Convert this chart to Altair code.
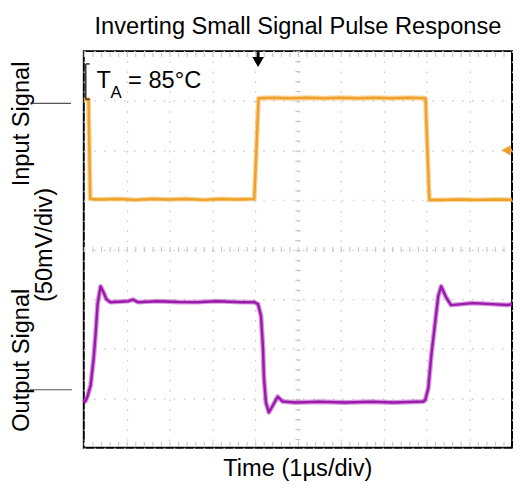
import altair as alt
import pandas as pd

# ---- data (time in divisions of 1 us, amplitude in divisions of 50 mV) ----
in_t = [0.0, 0.11, 0.15, 0.35, 0.8, 1.2, 1.6, 2.0, 2.4, 2.8, 3.2, 3.6, 3.98, 4.03, 4.08,
        4.4, 4.8, 5.2, 5.6, 6.0, 6.4, 6.8, 7.2, 7.6, 7.98, 8.02, 8.07, 8.4, 8.8, 9.2, 9.6, 10.0]
in_v = [7.03, 7.03, 5.02, 5.01, 5.02, 5.00, 5.02, 5.01, 5.02, 5.00, 5.02, 5.01, 5.02, 6.0, 7.05,
        7.06, 7.05, 7.06, 7.05, 7.06, 7.05, 7.06, 7.05, 7.06, 7.05, 6.1, 5.0, 5.0, 5.01, 5.0, 5.01, 5.0]

out_t = [0.0, 0.046, 0.092, 0.161, 0.230, 0.276, 0.322, 0.391, 0.460, 0.529, 0.621, 1.034,
         1.149, 1.264, 1.724, 2.2, 2.644, 3.103, 3.678, 3.977, 4.069, 4.138, 4.184, 4.207,
         4.253, 4.322, 4.414, 4.529, 4.644, 4.943, 5.5, 6.092, 6.7, 7.241, 7.931, 7.977,
         8.046, 8.115, 8.207, 8.276, 8.345, 8.460, 8.575, 9.080, 9.540, 9.885, 10.0]
out_v = [0.913, 0.953, 1.052, 1.270, 1.806, 2.303, 2.898, 3.256, 3.136, 2.998, 2.938, 2.958,
         2.99, 2.938, 2.958, 2.94, 2.938, 2.958, 2.938, 2.938, 2.898, 2.660, 2.005, 1.409,
         0.913, 0.715, 0.854, 1.032, 0.933, 0.913, 0.93, 0.913, 0.93, 0.913, 0.933, 0.973,
         1.211, 1.866, 2.541, 3.057, 3.256, 3.037, 2.878, 2.918, 2.898, 2.879, 2.898]

x_grid = list(range(0, 11))
y_grid = list(range(0, 9))

title_text = "Inverting Small Signal Pulse Response"
x_label = "Time (1\u00b5s/div)"
y_labels = ["Input Signal", "(50mV/div)", "Output Signal"]
temp_main = "T"
temp_sub = "A"
temp_rest = "= 85\u00b0C"
trigger_t = 4.07
trigger_level = 6.0

FONT = "Liberation Sans"
ORANGE = "#F0A128"
PURPLE = "#A81FB8"
FS = 24

df_in = pd.DataFrame({"t": in_t, "v": in_v, "i": range(len(in_t))})
df_out = pd.DataFrame({"t": out_t, "v": out_v, "i": range(len(out_t))})

xs = alt.Scale(domain=[0, 10], nice=False, zero=False)
ys = alt.Scale(domain=[0, 8], nice=False, zero=False)

one = alt.Data(values=[{}])

base_x = alt.X("t:Q", scale=xs,
               axis=alt.Axis(values=x_grid, labels=False, ticks=False, domain=False, title=None,
                             grid=True, gridColor="#c4c4c4", gridDash=[1.5, 8.6], gridWidth=1.2))
base_y = alt.Y("v:Q", scale=ys,
               axis=alt.Axis(values=y_grid, labels=False, ticks=False, domain=False, title=None,
                             grid=True, gridColor="#c4c4c4", gridDash=[1.5, 8.6], gridWidth=1.2))

input_halo = alt.Chart(df_in).mark_line(color=ORANGE, strokeWidth=5, opacity=0.45, strokeJoin="round").encode(
    x=base_x, y=base_y, order="i:Q")
input_line = alt.Chart(df_in).mark_line(color=ORANGE, strokeWidth=2.5, strokeJoin="round").encode(
    x=alt.X("t:Q", scale=xs), y=alt.Y("v:Q", scale=ys), order="i:Q")
output_halo = alt.Chart(df_out).mark_line(color=PURPLE, strokeWidth=5, opacity=0.45, strokeJoin="round").encode(
    x=alt.X("t:Q", scale=xs), y=alt.Y("v:Q", scale=ys), order="i:Q")
output_line = alt.Chart(df_out).mark_line(color="#9A1AAA", strokeWidth=2.5, strokeJoin="round").encode(
    x=alt.X("t:Q", scale=xs), y=alt.Y("v:Q", scale=ys), order="i:Q")

# centre cross ticks and border ticks
tick_col = "#c8c8c8"
center_h = alt.Chart(one).mark_rule(color=tick_col, strokeWidth=5, strokeDash=[1.2, 7.5]).encode(
    y=alt.datum(4), x=alt.value(0), x2=alt.value(435))
center_v = alt.Chart(one).mark_rule(color=tick_col, strokeWidth=5, strokeDash=[1.2, 8.9]).encode(
    x=alt.datum(5), y=alt.value(0), y2=alt.value(403))
top_t = alt.Chart(one).mark_rule(color=tick_col, strokeWidth=4, strokeDash=[1.2, 7.5]).encode(
    y=alt.value(4), x=alt.value(0), x2=alt.value(435))
bot_t = alt.Chart(one).mark_rule(color=tick_col, strokeWidth=4, strokeDash=[1.2, 7.5]).encode(
    y=alt.value(399), x=alt.value(0), x2=alt.value(435))

# markers
trig_stem = alt.Chart(one).mark_rule(color="black", strokeWidth=3).encode(
    x=alt.datum(trigger_t), y=alt.value(1), y2=alt.value(9))
trig_head = alt.Chart(one).mark_point(shape="triangle-down", filled=True, color="black", size=140, opacity=1).encode(
    x=alt.datum(trigger_t), y=alt.value(11))
lvl_head = alt.Chart(one).mark_point(shape="triangle-left", filled=True, color=ORANGE, size=110, opacity=1).encode(
    x=alt.datum(9.86), y=alt.datum(trigger_level))
lvl_stem = alt.Chart(one).mark_rule(color=ORANGE, strokeWidth=3).encode(
    x=alt.datum(9.88), x2=alt.datum(10), y=alt.datum(trigger_level))
br_v = alt.Chart(one).mark_rule(color="#333333", strokeWidth=1.5).encode(
    x=alt.value(2), y=alt.value(13), y2=alt.value(49))
br_t1 = alt.Chart(one).mark_rule(color="#333333", strokeWidth=1.5).encode(
    x=alt.value(2), x2=alt.value(6), y=alt.value(13))
br_t2 = alt.Chart(one).mark_rule(color="#333333", strokeWidth=1.5).encode(
    x=alt.value(2), x2=alt.value(6), y=alt.value(49))

def txt(s, x, y, size=FS, angle=0, align="center", baseline="alphabetic"):
    return alt.Chart(alt.Data(values=[{"s": s}])).mark_text(
        font=FONT, fontSize=size, angle=angle, align=align, baseline=baseline, color="black"
    ).encode(x=alt.value(x), y=alt.value(y), text="s:N")

title = txt(title_text, 217.5, -17)
xlab = txt(x_label, 217.5, 432)
yl1 = txt(y_labels[0], -63, 74, angle=270, baseline="middle")
yl2 = txt(y_labels[1], -39, 197, angle=270, baseline="middle")
yl3 = txt(y_labels[2], -63, 314, angle=270, baseline="middle")
tA1 = txt(temp_main, 13, 37, align="left")
tA2 = txt(temp_sub, 27, 48, size=17, align="left")
tA3 = txt(temp_rest, 45, 37, align="left")

mark_in = alt.Chart(one).mark_rule(color="#555555", strokeWidth=1.2).encode(
    x=alt.value(-52), x2=alt.value(-13), y=alt.value(53))
mark_out = alt.Chart(one).mark_rule(color="#555555", strokeWidth=1.2).encode(
    x=alt.value(-55), x2=alt.value(-12), y=alt.value(344))

chart = alt.layer(
    input_halo, center_h, center_v, top_t, bot_t, input_line, output_halo, output_line,
    trig_stem, trig_head, lvl_stem, lvl_head, br_v, br_t1, br_t2,
    title, xlab, yl1, yl2, yl3, tA1, tA2, tA3, mark_in, mark_out
).properties(
    width=435, height=403,
    autosize=alt.AutoSizeParams(type="none"),
    padding={"left": 77, "top": 40, "right": 1, "bottom": 38},
).configure_view(stroke="black", strokeWidth=2)

chart.save("out.html", embed_options={"renderer": "svg", "actions": False})
